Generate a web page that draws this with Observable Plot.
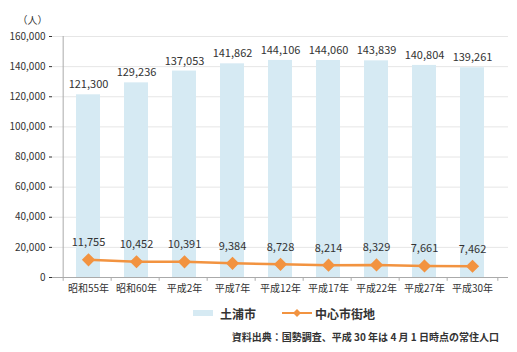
<!DOCTYPE html>
<html><head><meta charset="utf-8">
<script src="https://cdn.jsdelivr.net/npm/d3@7"></script>
<script src="https://cdn.jsdelivr.net/npm/@observablehq/plot@0.6"></script>
<style>
body{margin:0;background:#fff;font-family:"Noto Sans CJK JP",sans-serif;}
#wrap{width:517px;}
.legend{display:flex;align-items:center;font-size:12px;font-weight:bold;color:#333;height:20px;margin-top:3px;}
.caption{text-align:right;padding-right:18px;font-size:10px;font-weight:bold;color:#333;margin-top:6px;}
</style></head>
<body><div id="wrap"></div>
<script>
const categories = ["昭和55年","昭和60年","平成2年","平成7年","平成12年","平成17年","平成22年","平成27年","平成30年"];
const tsuchiura = [121300,129236,137053,141862,144106,144060,143839,140804,139261];
const center = [11755,10452,10391,9384,8728,8214,8329,7661,7462];
const yTicks = [0,20000,40000,60000,80000,100000,120000,140000,160000];

const rows = categories.map((c,i)=>({cat:c, total:tsuchiura[i], center:center[i]}));
const W=517, mL=52, mR=9;
const step=(W-mL-mR)/categories.length;
const fmt = d3.format(",");
const font = "Noto Sans CJK JP";
const wrap=document.getElementById("wrap");

const plot = Plot.plot({
  width: W, height: 300,
  marginLeft: mL, marginRight: mR, marginTop: 36, marginBottom: 23,
  style:{fontFamily:font, fontSize:"10px", color:"#333"},
  x:{domain:categories, padding:0.5, label:null},
  y:{domain:[0,160000], label:null},
  marks:[
    Plot.gridY(yTicks,{stroke:"#e6e6e6", strokeOpacity:1}),
    Plot.axisY({ticks:yTicks, tickFormat:fmt, tickSize:3, tickPadding:4, label:null, fontSize:10}),
    Plot.axisX({tickSize:0, tickPadding:7, label:null, fontSize:10}),
    Plot.ruleX(rows,{x:"cat", y1:0, y2:-2500, dx:-step/2, stroke:"#aaa"}),
    Plot.ruleX([rows[rows.length-1]],{x:"cat", y1:0, y2:-2500, dx:step/2, stroke:"#aaa"}),
    Plot.barY(rows,{x:"cat", y:"total", fill:"#d6eaf3"}),
    Plot.ruleY([0],{stroke:"#aaa"}),
    Plot.ruleX([rows[0]],{x:"cat", dx:-step/2, y1:0, y2:160000, stroke:"#aaa"}),
    Plot.text(rows,{x:"cat", y:"total", text:d=>fmt(d.total), dy:-10, fontSize:11, fill:"#333"}),
    Plot.line(rows,{x:"cat", y:"center", stroke:"#f29340", strokeWidth:2.5}),
    Plot.dot(rows,{x:"cat", y:"center", symbol:"diamond2", r:5, fill:"#f29340", stroke:"#f29340"}),
    Plot.text(rows,{x:"cat", y:"center", text:d=>fmt(d.center), dy:-17, fontSize:11, fill:"#333"}),
    Plot.text(["（人）"],{frameAnchor:"top-left", dx:-35, dy:-20, fontSize:10, fill:"#333"})
  ]
});
wrap.appendChild(plot);
const leg=document.createElement("div");
leg.className="legend";
leg.innerHTML='<span style="margin-left:193px;display:inline-block;width:20px;height:6px;background:#d6eaf3"></span>'+
'<span style="margin-left:7px">土浦市</span>'+
'<svg width="30" height="12" style="margin-left:26px"><line x1="0" y1="6" x2="30" y2="6" stroke="#f29340" stroke-width="2"/><path d="M15 2L19 6L15 10L11 6Z" fill="#f29340"/></svg>'+
'<span style="margin-left:3px">中心市街地</span>';
wrap.appendChild(leg);
const cap=document.createElement("div");
cap.className="caption";
cap.textContent="資料出典：国勢調査、平成 30 年は 4 月 1 日時点の常住人口";
wrap.appendChild(cap);
</script></body></html>
